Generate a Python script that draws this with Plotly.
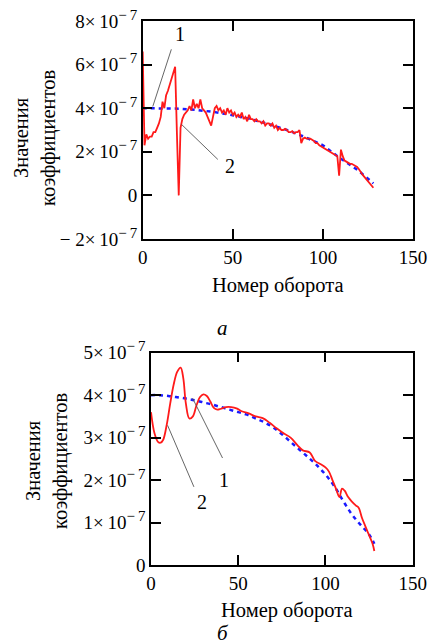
import plotly.graph_objects as go

# ---------------- data (values in units of 1e-7) ----------------
SC = 1e-7
# Panel a: red curve (2), one value per revolution 0..128
top_red_x = list(range(0, 129))
top_red_y = [
    6.6, 2.3, 2.8, 2.6, 2.7, 2.7, 2.9, 2.9, 3.1, 3.3,
    3.6, 4.3, 4.0, 4.6, 4.8, 5.1, 5.3, 5.6, 5.9, 2.8,
    0.0, 3.1, 3.5, 3.7, 3.8, 3.9, 4.1, 3.9, 4.4, 4.0,
    4.2, 4.0, 4.4, 4.0, 3.9, 3.8, 3.6, 3.4, 3.2, 3.6,
    4.0, 4.1, 3.9, 4.0, 3.8, 3.9, 3.7, 4.0, 3.8, 3.9,
    3.7, 3.8, 3.6, 3.7, 3.6, 3.8, 3.5, 3.6, 3.4, 3.7,
    3.5, 3.5, 3.4, 3.5, 3.4, 3.4, 3.3, 3.4, 3.2, 3.3,
    3.3, 3.2, 3.3, 3.1, 3.2, 3.0, 3.1, 3.0, 3.0, 3.05,
    3.0, 2.9, 2.9, 2.95, 2.85, 2.9, 2.9, 3.0, 2.4, 2.6,
    2.65, 2.6, 2.6, 2.6, 2.55, 2.5, 2.4, 2.4, 2.3, 2.25,
    2.2, 2.15, 2.1, 2.05, 2.0, 1.95, 1.9, 1.85, 1.8, 0.9,
    2.1, 1.8, 1.6, 1.55, 1.5, 1.45, 1.45, 1.4, 1.38, 1.3,
    1.2, 1.05, 0.95, 0.85, 0.75, 0.65, 0.55, 0.45, 0.35,
]
# Panel a: blue approximation (1)
top_blue_x = [0, 10, 20, 30, 40, 50, 60, 70, 80, 90, 100, 110, 120, 128]
top_blue_y = [4.0, 4.0, 3.98, 3.92, 3.82, 3.68, 3.5, 3.27, 3.0, 2.68, 2.3, 1.68, 1.12, 0.55]

# Panel б: red curve (2)
bot_red_x = [0, 2, 4, 5.5, 7, 9, 11, 13, 15, 17, 18.5, 20, 22, 24, 26, 28, 30, 32, 34, 36,
             38, 40, 43, 46, 49, 52, 56, 60, 64, 68, 72, 76, 80, 84, 87, 91, 94, 97, 100,
             102, 104, 106, 108, 109.5, 111, 113, 115, 117.5, 119, 121, 123, 125, 127, 128]
bot_red_y = [3.6, 3.1, 2.9, 2.88, 2.95, 3.3, 3.8, 4.25, 4.55, 4.65, 4.4, 3.8, 3.45, 3.5, 3.75,
             3.95, 4.02, 3.98, 3.85, 3.7, 3.66, 3.68, 3.72, 3.72, 3.69, 3.62, 3.57, 3.5, 3.46,
             3.35, 3.22, 3.1, 3.0, 2.82, 2.7, 2.65, 2.45, 2.38, 2.3, 2.2, 2.0, 1.8, 1.6, 1.8,
             1.75, 1.6, 1.5, 1.4, 1.35, 1.1, 0.9, 0.7, 0.5, 0.33]
# Panel б: blue approximation (1)
bot_blue_x = [0, 5, 10, 15, 20, 25, 30, 35, 40, 45, 50, 55, 60, 65, 70, 75, 80, 85, 90, 95,
              100, 105, 110, 115, 120, 125, 128]
bot_blue_y = [4.0, 4.0, 3.98, 3.95, 3.92, 3.88, 3.83, 3.78, 3.72, 3.66, 3.6, 3.54, 3.45, 3.36,
              3.24, 3.08, 2.9, 2.72, 2.54, 2.35, 2.13, 1.86, 1.52, 1.2, 0.95, 0.72, 0.5]

x_ticks = [0, 50, 100, 150]
top_y_ticks = [-2, 0, 2, 4, 6, 8]
bot_y_ticks = [0, 1, 2, 3, 4, 5]

title_y = "Значения<br>коэффициентов"
title_x = "Номер оборота"


def sci_label(v):
    if v == 0:
        return "0"
    sign = "\u2212 " if v < 0 else ""
    return (f"{sign}{abs(v)}\u00d7\u200910"
            f"<sup><span style='font-size:15px'>\u2212\u20097</span></sup>")


FONT = "Liberation Serif"
W, H = 438, 644


def px(xp):
    return xp / W


def py(yp):
    return 1 - yp / H


fig = go.Figure()
fig.add_trace(go.Scatter(x=top_blue_x, y=[v * SC for v in top_blue_y], mode="lines",
                         line=dict(color="#1a1aff", width=2.5, dash="4px,4px"),
                         xaxis="x", yaxis="y", showlegend=False))
fig.add_trace(go.Scatter(x=top_red_x, y=[v * SC for v in top_red_y], mode="lines",
                         line=dict(color="#ff1a1a", width=1.8),
                         xaxis="x", yaxis="y", showlegend=False))
fig.add_trace(go.Scatter(x=bot_blue_x, y=[v * SC for v in bot_blue_y], mode="lines",
                         line=dict(color="#1a1aff", width=2.5, dash="4px,4px", shape="spline"),
                         xaxis="x2", yaxis="y2", showlegend=False))
fig.add_trace(go.Scatter(x=bot_red_x, y=[v * SC for v in bot_red_y], mode="lines",
                         line=dict(color="#ff1a1a", width=1.8, shape="spline"),
                         xaxis="x2", yaxis="y2", showlegend=False))

axis_common = dict(showline=True, linecolor="black", linewidth=1.5, mirror="ticks",
                   ticks="inside", ticklen=10, tickwidth=1.5, tickcolor="black",
                   showgrid=False, zeroline=False, automargin=False,
                   tickfont=dict(family=FONT, size=19, color="black"))

fig.update_layout(
    width=W, height=H,
    margin=dict(l=0, r=0, t=0, b=0, autoexpand=False),
    paper_bgcolor="white", plot_bgcolor="white",
    font=dict(family=FONT, size=19, color="black"),
    xaxis=dict(domain=[px(142.7), px(413)], anchor="y", range=[0, 150],
               tickvals=x_ticks, ticktext=[str(t) for t in x_ticks], **axis_common),
    yaxis=dict(domain=[py(239), py(21)], anchor="x", range=[-2 * SC, 8 * SC],
               tickvals=[t * SC for t in top_y_ticks],
               ticktext=[sci_label(t) for t in top_y_ticks], **axis_common),
    xaxis2=dict(domain=[px(151), px(412.7)], anchor="y2", range=[0, 150],
                tickvals=x_ticks, ticktext=[str(t) for t in x_ticks], **axis_common),
    yaxis2=dict(domain=[py(565), py(352.7)], anchor="x2", range=[0, 5 * SC],
                tickvals=[t * SC for t in bot_y_ticks],
                ticktext=[sci_label(t) for t in bot_y_ticks], **axis_common),
)


def paper_text(text, xp, yp, size=20, angle=0):
    fig.add_annotation(text=text, textangle=angle, x=px(xp), y=py(yp),
                       xref="paper", yref="paper", xanchor="center", yanchor="middle",
                       showarrow=False, font=dict(family=FONT, size=size, color="black"))


# axis titles, panel letters
paper_text(title_y, 35, 138, 20.5, -90)
paper_text(title_y, 47, 461, 20.5, -90)
paper_text(title_x, 278, 285, 20.5)
paper_text(title_x, 287, 610, 20.5)
paper_text("<i>а</i>", 222, 328, 21)
paper_text("<i>б</i>", 223, 633, 21)

# curve labels with leader lines (data coordinates)
lead = dict(color="#555555", width=0.9)
fig.add_shape(type="line", xref="x", yref="y", x0=15.9, y0=6.7 * SC, x1=5.6, y1=4.08 * SC, line=lead)
fig.add_shape(type="line", xref="x", yref="y", x0=21.5, y0=3.26 * SC, x1=41.7, y1=1.65 * SC, line=lead)
fig.add_shape(type="line", xref="x2", yref="y2", x0=9.5, y0=3.29 * SC, x1=24.6, y1=1.84 * SC, line=lead)
fig.add_shape(type="line", xref="x2", yref="y2", x0=23.8, y0=3.93 * SC, x1=41.0, y1=2.52 * SC, line=lead)


def curve_label(text, x, y, xr, yr):
    fig.add_annotation(text=text, x=x, y=y, xref=xr, yref=yr, showarrow=False,
                       xanchor="center", yanchor="middle",
                       font=dict(family=FONT, size=20, color="black"))


curve_label("1", 20.6, 7.4 * SC, "x", "y")
curve_label("2", 48.3, 1.33 * SC, "x", "y")
curve_label("2", 29.5, 1.49 * SC, "x2", "y2")
curve_label("1", 41.7, 2.0 * SC, "x2", "y2")

fig.write_html("out.html", config={"displayModeBar": False},
               post_script="document.body.style.margin='0';document.body.style.overflow='hidden';")
